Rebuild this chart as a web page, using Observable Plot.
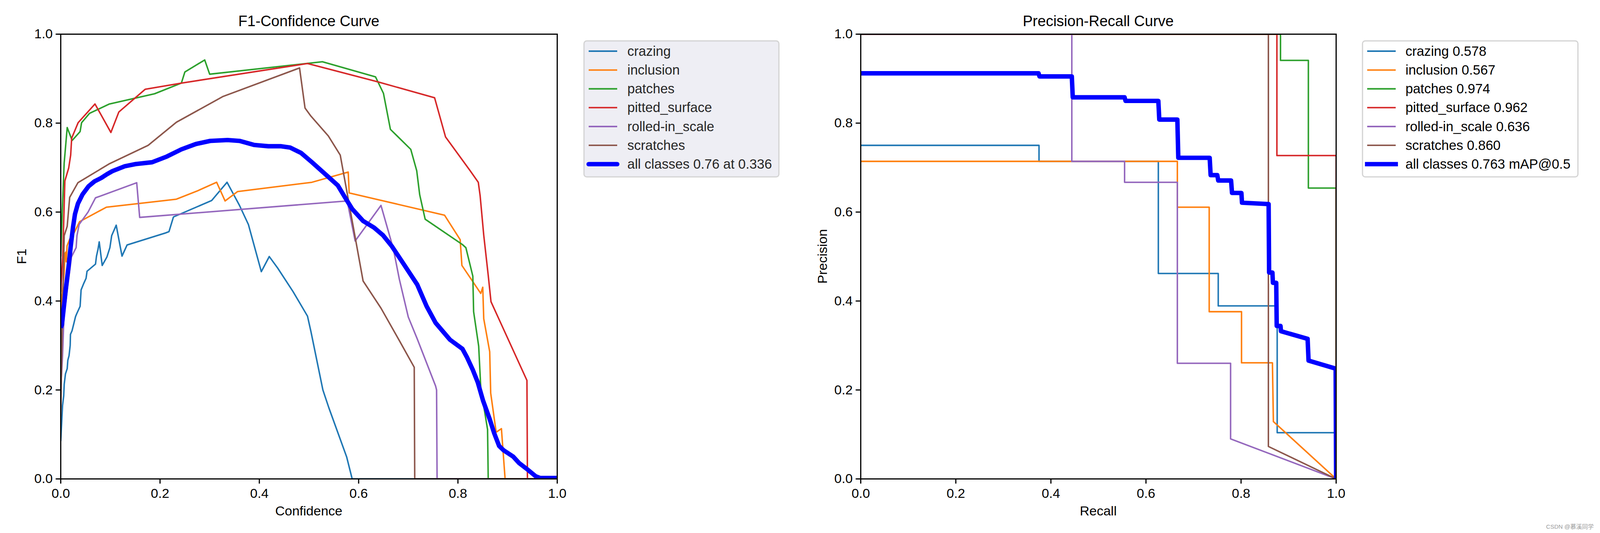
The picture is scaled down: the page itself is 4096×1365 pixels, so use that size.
<!DOCTYPE html>
<html>
<head>
<meta charset="utf-8">
<script src="https://cdn.jsdelivr.net/npm/d3@7"></script>
<script src="https://cdn.jsdelivr.net/npm/@observablehq/plot@0.6"></script>
<style>
  html, body { margin: 0; padding: 0; background: #ffffff; overflow: hidden; }
  #root { position: relative; width: 4096px; height: 1365px; background: #ffffff; }
  #root > svg, #root > figure { position: absolute; top: 0; margin: 0; }
  #overlay { position: absolute; left: 0; top: 0; pointer-events: none; }
</style>
</head>
<body>
<div id="root"></div>
<script>
// ---------- data ----------
const classes = ["crazing", "inclusion", "patches", "pitted_surface", "rolled-in_scale", "scratches"];
const classColors = ["#1f77b4", "#ff7f0e", "#2ca02c", "#d62728", "#9467bd", "#8c564b"];
const apValues = ["0.578", "0.567", "0.974", "0.962", "0.636", "0.860"];
const axisTicks = [0, 0.2, 0.4, 0.6, 0.8, 1.0];
const f1Best = "0.76";
const f1BestConf = "0.336";
const mAP50 = "0.763";

// F1-Confidence curves: [confidence, F1]
const f1Crazing = [[0,0.085],[0.0036,0.165],[0.006,0.187],[0.007,0.213],[0.0095,0.236],[0.013,0.248],[0.0143,0.267],[0.0167,0.277],[0.019,0.3],[0.0196,0.325],[0.0227,0.333],[0.0263,0.349],[0.0298,0.365],[0.032,0.371],[0.039,0.388],[0.041,0.425],[0.0465,0.44],[0.051,0.451],[0.053,0.467],[0.07,0.483],[0.072,0.501],[0.075,0.516],[0.0775,0.533],[0.0835,0.48],[0.093,0.499],[0.099,0.52],[0.1026,0.547],[0.1117,0.5705],[0.1234,0.501],[0.1336,0.526],[0.211,0.553],[0.218,0.556],[0.227,0.589],[0.304,0.626],[0.335,0.667],[0.36,0.615],[0.378,0.572],[0.404,0.466],[0.42,0.5],[0.437,0.474],[0.468,0.421],[0.497,0.366],[0.504,0.331],[0.528,0.2],[0.54,0.16],[0.576,0.049],[0.587,0],[1,0]];
const f1Inclusion = [[0,0.38],[0.004,0.43],[0.007,0.464],[0.0084,0.507],[0.0103,0.51],[0.0112,0.488],[0.0127,0.524],[0.018,0.539],[0.0274,0.5545],[0.038,0.5785],[0.092,0.611],[0.211,0.626],[0.233,0.629],[0.276,0.648],[0.314,0.667],[0.331,0.625],[0.356,0.646],[0.506,0.667],[0.579,0.69],[0.581,0.643],[0.773,0.593],[0.8045,0.538],[0.808,0.48],[0.846,0.417],[0.85,0.431],[0.852,0.36],[0.864,0.286],[0.866,0.193],[0.877,0.105],[0.8876,0.113],[0.895,0],[1,0]];
const f1Patches = [[0,0.5],[0.003,0.6],[0.0069,0.71],[0.013,0.79],[0.023,0.761],[0.039,0.781],[0.042,0.801],[0.058,0.822],[0.098,0.843],[0.189,0.866],[0.243,0.89],[0.25,0.915],[0.29,0.942],[0.3,0.91],[0.527,0.938],[0.634,0.904],[0.65,0.867],[0.664,0.786],[0.705,0.741],[0.717,0.693],[0.723,0.639],[0.734,0.584],[0.809,0.527],[0.816,0.52],[0.83,0.456],[0.8316,0.376],[0.8418,0.2985],[0.846,0.205],[0.8597,0.111],[0.861,0],[1,0]];
const f1Pitted = [[0,0.42],[0.004,0.5],[0.0083,0.67],[0.016,0.699],[0.02,0.728],[0.022,0.766],[0.035,0.801],[0.069,0.843],[0.101,0.779],[0.117,0.825],[0.17,0.876],[0.243,0.89],[0.497,0.934],[0.638,0.893],[0.753,0.857],[0.775,0.769],[0.824,0.694],[0.841,0.667],[0.8447,0.637],[0.852,0.548],[0.861,0.458],[0.8666,0.3985],[0.939,0.2214],[0.94,0],[1,0]];
const f1Rolled = [[0,0.2],[0.0036,0.277],[0.0064,0.365],[0.0215,0.499],[0.031,0.52],[0.0327,0.547],[0.037,0.572],[0.055,0.6],[0.07,0.632],[0.153,0.666],[0.159,0.588],[0.577,0.625],[0.593,0.535],[0.645,0.615],[0.67,0.517],[0.682,0.449],[0.7,0.364],[0.718,0.315],[0.755,0.209],[0.757,0.2],[0.758,0],[1,0]];
const f1Scratches = [[0,0.14],[0.003,0.35],[0.007,0.547],[0.013,0.568],[0.018,0.633],[0.0346,0.666],[0.051,0.677],[0.097,0.708],[0.176,0.75],[0.233,0.802],[0.327,0.86],[0.481,0.924],[0.492,0.834],[0.503,0.817],[0.539,0.771],[0.563,0.728],[0.609,0.445],[0.645,0.384],[0.682,0.311],[0.712,0.251],[0.713,0],[1,0]];
const f1All = [[0,0.34],[0.0024,0.347],[0.006,0.384],[0.0107,0.432],[0.0155,0.475],[0.0203,0.525],[0.0246,0.565],[0.0286,0.595],[0.0346,0.619],[0.044,0.64],[0.056,0.658],[0.068,0.669],[0.082,0.677],[0.093,0.685],[0.104,0.692],[0.129,0.703],[0.151,0.708],[0.184,0.712],[0.214,0.725],[0.243,0.741],[0.272,0.753],[0.301,0.76],[0.336,0.762],[0.36,0.76],[0.389,0.751],[0.418,0.748],[0.444,0.748],[0.462,0.745],[0.484,0.733],[0.506,0.712],[0.535,0.683],[0.558,0.66],[0.572,0.634],[0.587,0.607],[0.609,0.58],[0.631,0.565],[0.649,0.548],[0.667,0.523],[0.689,0.486],[0.718,0.437],[0.737,0.388],[0.755,0.351],[0.784,0.313],[0.809,0.2925],[0.818,0.274],[0.83,0.245],[0.84,0.217],[0.8506,0.176],[0.8638,0.135],[0.873,0.103],[0.883,0.074],[0.8924,0.064],[0.9115,0.05],[0.9234,0.0355],[0.9377,0.0233],[0.9568,0.0058],[0.966,0.002],[1,0.002]];

// Precision-Recall curves: [recall, precision]
const prCrazing = [[0,0.75],[0.375,0.75],[0.375,0.714],[0.626,0.714],[0.626,0.462],[0.752,0.462],[0.752,0.389],[0.876,0.389],[0.876,0.104],[1,0.104],[1,0]];
const prInclusion = [[0,0.714],[0.666,0.714],[0.666,0.611],[0.733,0.611],[0.733,0.376],[0.801,0.376],[0.801,0.261],[0.866,0.261],[0.868,0.129],[1,0]];
const prPatches = [[0,1],[0.883,1],[0.883,0.941],[0.9416,0.941],[0.9416,0.654],[1,0.654],[1,0]];
const prPitted = [[0,1],[0.8754,1],[0.8754,0.727],[1,0.727],[1,0]];
const prRolled = [[0,1],[0.444,1],[0.444,0.714],[0.555,0.714],[0.555,0.667],[0.666,0.667],[0.666,0.26],[0.778,0.26],[0.778,0.09],[1,0]];
const prScratches = [[0,1],[0.8575,1],[0.8575,0.073],[1,0]];
const prAll = [[0,0.912],[0.374,0.912],[0.376,0.905],[0.444,0.905],[0.446,0.858],[0.555,0.858],[0.557,0.85],[0.626,0.85],[0.628,0.808],[0.666,0.808],[0.668,0.722],[0.734,0.722],[0.736,0.683],[0.75,0.683],[0.752,0.671],[0.779,0.671],[0.781,0.643],[0.8007,0.643],[0.802,0.621],[0.858,0.618],[0.859,0.464],[0.866,0.464],[0.867,0.441],[0.874,0.441],[0.875,0.344],[0.883,0.344],[0.884,0.332],[0.94,0.315],[0.942,0.266],[0.999,0.248],[1,0]];

// ---------- tables ----------
const f1Series = [f1Crazing, f1Inclusion, f1Patches, f1Pitted, f1Rolled, f1Scratches];
const prSeries = [prCrazing, prInclusion, prPatches, prPitted, prRolled, prScratches];
const toRows = (series) => series.flatMap((pts, i) => pts.map(([x, y]) => ({cls: classes[i], x, y})));
const toAll = (pts) => pts.map(([x, y]) => ({x, y}));

const FONT = "'Liberation Sans', Arial, Helvetica, sans-serif";

function makeChart(rows, allRows, ml, mr) {
  return Plot.plot({
    width: 1500,
    height: 1365,
    marginLeft: ml,
    marginRight: mr,
    marginTop: 87,
    marginBottom: 139,
    x: {domain: [0, 1]},
    y: {domain: [0, 1]},
    color: {domain: classes, range: classColors},
    style: {fontFamily: FONT, fontSize: "34px", color: "#000000", background: "transparent", overflow: "visible"},
    marks: [
      Plot.line(rows, {x: "x", y: "y", z: "cls", stroke: "cls", strokeWidth: 3.8, strokeLinejoin: "round", strokeLinecap: "butt", clip: true}),
      Plot.line(allRows, {x: "x", y: "y", stroke: "#0000ff", strokeWidth: 11.4, strokeLinejoin: "round", strokeLinecap: "butt", clip: true}),
      Plot.frame({stroke: "#000000", strokeWidth: 3}),
      Plot.axisX({ticks: axisTicks, tickFormat: d3.format(".1f"), tickSize: 12.5, tickPadding: 12, strokeWidth: 3, label: null, fontSize: 34, fill: "#000000"}),
      Plot.axisY({ticks: axisTicks, tickFormat: d3.format(".1f"), tickSize: 12.5, tickPadding: 8, strokeWidth: 3, label: null, fontSize: 34, fill: "#000000"})
    ]
  });
}

const root = document.getElementById("root");
const left = makeChart(toRows(f1Series), toAll(f1All), 155, 74);
left.style.left = "0px";
root.appendChild(left);
const right = makeChart(toRows(prSeries), toAll(prAll), 203, 80);
right.style.left = "2000px";
root.appendChild(right);

// ---------- overlay: titles, axis labels, legends, note ----------
const legend1Labels = classes.concat([`all classes ${f1Best} at ${f1BestConf}`]);
const legend2Labels = classes.map((c, i) => `${c} ${apValues[i]}`).concat([`all classes ${mAP50} mAP@0.5`]);
const legendColors = classColors.concat(["#0000ff"]);
const rowY = [131, 179.3, 227.5, 275.7, 324, 372.2, 420.4];

function legendSVG(x0, w, bg, textColor, labels, hx0, hx1, tx, thickCap) {
  let s = `<rect x="${x0}" y="104.7" width="${w}" height="348.3" rx="7" ry="7" fill="${bg}" stroke="#d3d3d3" stroke-width="3"/>`;
  labels.forEach((lab, i) => {
    const y = rowY[i];
    const thick = i === labels.length - 1;
    s += `<line x1="${hx0}" x2="${hx1}" y1="${y}" y2="${y}" stroke="${legendColors[i]}" stroke-width="${thick ? 11.4 : 3.8}" stroke-linecap="${thick ? thickCap : 'butt'}"/>`;
    s += `<text x="${tx}" y="${y + 11.5}" font-size="34.5" fill="${textColor}">${lab}</text>`;
  });
  return s;
}

const ns = "http://www.w3.org/2000/svg";
const ov = document.createElementNS(ns, "svg");
ov.setAttribute("id", "overlay");
ov.setAttribute("width", 4096);
ov.setAttribute("height", 1365);
ov.setAttribute("font-family", FONT);
ov.innerHTML =
  `<text x="790.5" y="67" font-size="38" text-anchor="middle" fill="#000">F1-Confidence Curve</text>` +
  `<text x="2811.5" y="67" font-size="38" text-anchor="middle" fill="#000">Precision-Recall Curve</text>` +
  `<text x="790.5" y="1319.5" font-size="34" text-anchor="middle" fill="#000">Confidence</text>` +
  `<text x="2811.5" y="1319.5" font-size="34" text-anchor="middle" fill="#000">Recall</text>` +
  `<text transform="translate(66.5,656.6) rotate(-90)" font-size="34" text-anchor="middle" fill="#000">F1</text>` +
  `<text transform="translate(2117,656.6) rotate(-90)" font-size="34" text-anchor="middle" fill="#000">Precision</text>` +
  legendSVG(1495, 499, "#eeeef4", "#262626", legend1Labels, 1507, 1580, 1606, "round") +
  legendSVG(3488, 551.5, "#ffffff", "#000000", legend2Labels, 3500, 3573, 3598, "square") +
  `<text x="4080" y="1354" font-size="15" text-anchor="end" fill="#9a9a9a" font-family="'Liberation Sans', 'Noto Sans CJK SC', sans-serif">CSDN @慕溪同学</text>`;
root.appendChild(ov);
</script>
</body>
</html>
